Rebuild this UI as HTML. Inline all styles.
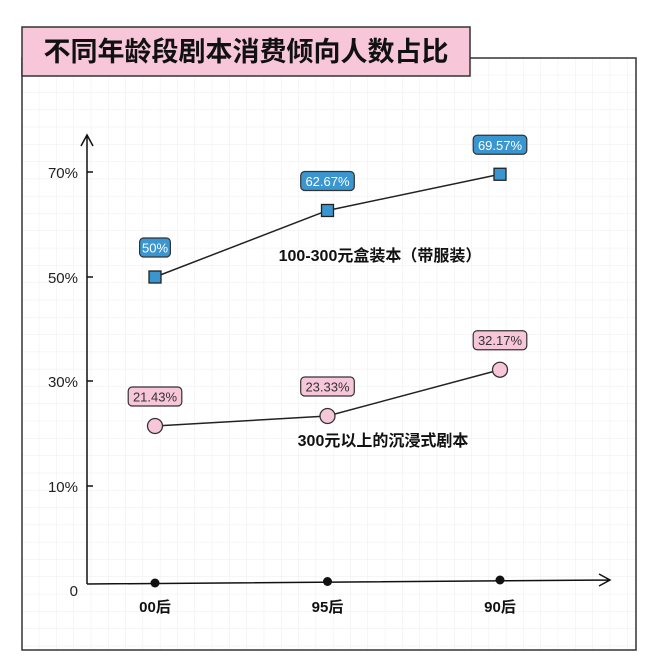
<!DOCTYPE html>
<html><head><meta charset="utf-8"><style>
body{margin:0;background:#fff;}
svg{display:block;font-family:"Liberation Sans","Noto Sans CJK SC",sans-serif;}
</style></head><body>
<svg id="c" width="656" height="671" viewBox="0 0 656 671">
<defs><pattern id="g" width="17.3" height="17.3" patternUnits="userSpaceOnUse" x="22" y="58"><path d="M17.3 0V17.3H0" fill="none" stroke="#ececec" stroke-width="1"/></pattern></defs>
<rect x="22" y="58" width="614" height="592" fill="url(#g)" stroke="#333" stroke-width="1.5"/>
<rect x="22" y="27" width="448" height="49" fill="#f7c6d8" stroke="#333" stroke-width="1.5"/>
<text x="246" y="61" text-anchor="middle" font-size="27" font-weight="bold" fill="#111">不同年龄段剧本消费倾向人数占比</text>
<g id="axes"></g>
<g id="marks"></g>
</svg>
<script>
const categories=["00后","95后","90后"];
const boxSeries=[50,62.67,69.57];
const immersiveSeries=[21.43,23.33,32.17];
const tickValues=[0,10,30,50,70];
const tickLabels=["0","10%","30%","50%","70%"];
const NS="http://www.w3.org/2000/svg";
const tickPos=[584,486,381,277,172];
function y(v){for(let i=1;i<tickValues.length;i++){if(v<=tickValues[i]||i===tickValues.length-1){const a=tickValues[i-1],b=tickValues[i];return tickPos[i-1]+(v-a)/(b-a)*(tickPos[i]-tickPos[i-1]);}}}
function x(i){return 155+i*172.5;}
function el(t,a,p){const e=document.createElementNS(NS,t);for(const k in a)e.setAttribute(k,a[k]);p.appendChild(e);return e;}
const ax=document.getElementById('axes'),mk=document.getElementById('marks');
let e=el('path',{d:"M87 584V135M81 146L87 135L93 146",fill:"none",stroke:"#111","stroke-width":1.5},ax);


e=el('path',{d:"M87 584L610 580M599 574L610 580L599 586",fill:"none",stroke:"#111","stroke-width":1.5},ax);


tickValues.forEach((v,i)=>{
  if(v>0){const t=el('line',{x1:87,x2:93,y1:y(v),y2:y(v),stroke:"#111","stroke-width":1.5},ax);
  
  }
  const l=el('text',{x:78,y:(v===0?596:y(v)+6),"text-anchor":"end","font-size":15,fill:"#222"},ax);l.textContent=tickLabels[i];
  
  
});
categories.forEach((c,i)=>{
  const d=el('circle',{cx:x(i),cy:583-i*1.5,r:4.5,fill:"#111"},ax);
  
  
  const t=el('text',{x:x(i),y:612,"text-anchor":"middle","font-size":15,"font-weight":"bold",fill:"#111"},ax);t.textContent=c;
  
  
});
function series(vals,fill,shape,name){
  const pl=el('polyline',{points:vals.map((v,i)=>x(i)+","+y(v)).join(" "),fill:"none",stroke:"#222","stroke-width":1.5},mk);
  
  
  vals.forEach((v,i)=>{
    let m;
    if(shape==='sq')m=el('rect',{x:x(i)-6,y:y(v)-6,width:12,height:12,fill:fill,stroke:"#222","stroke-width":1.3},mk);
    else m=el('circle',{cx:x(i),cy:y(v),r:7.5,fill:fill,stroke:"#333","stroke-width":1.3},mk);
    
    
    const s=v+"%",w=s.length*7.6+8,by=y(v)-39;
    const b=el('rect',{x:x(i)-w/2,y:by,width:w,height:19,rx:4,fill:fill,stroke:"#333","stroke-width":1.2},mk);
    
    
    const t=el('text',{x:x(i),y:by+14.5,"text-anchor":"middle","font-size":13,fill:shape==='sq'?"#fff":"#333"},mk);t.textContent=s;
    
    
  });
}
series(boxSeries,"#3a96d0","sq","box-script");
series(immersiveSeries,"#f7c6d8","ci","immersive-script");
let t=el('text',{x:380,y:261,"text-anchor":"middle","font-size":16,"font-weight":"bold",fill:"#111"},mk);t.textContent="100-300元盒装本（带服装）";


t=el('text',{x:383,y:446,"text-anchor":"middle","font-size":16,"font-weight":"bold",fill:"#111"},mk);t.textContent="300元以上的沉浸式剧本";


</script>
</body></html>
